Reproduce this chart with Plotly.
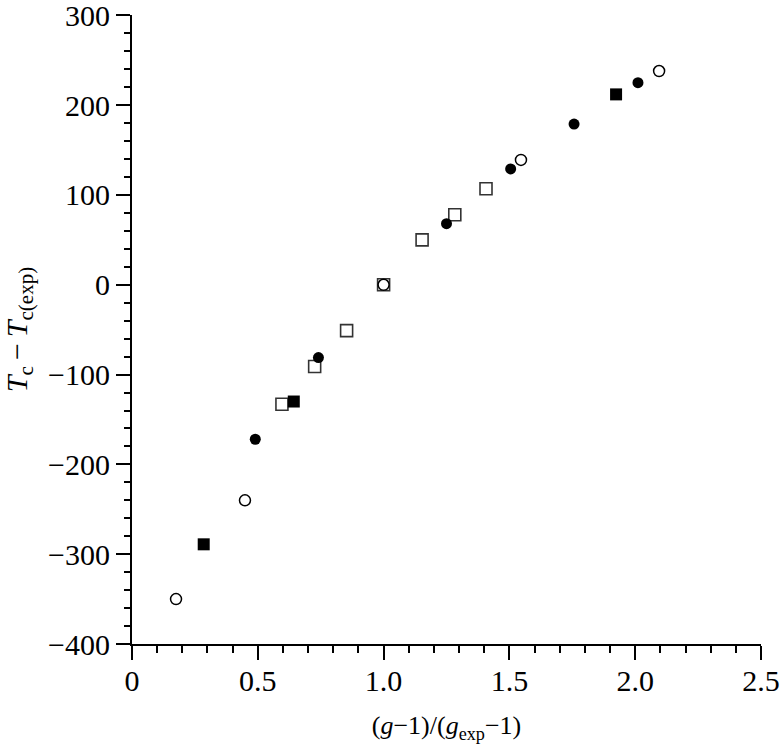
import plotly.graph_objects as go

# Data
open_sq_x = [0.596, 0.726, 0.853, 1.0, 1.153, 1.283, 1.407]
open_sq_y = [-133, -91, -51, 0, 50, 78, 107]

filled_sq_x = [0.285, 0.643, 1.924]
filled_sq_y = [-289, -130, 212]

filled_ci_x = [0.49, 0.741, 1.25, 1.505, 1.757, 2.011]
filled_ci_y = [-172, -81, 68, 129, 179, 225]

open_ci_x = [0.175, 0.449, 1.0, 1.546, 2.095]
open_ci_y = [-350, -240, 0, 139, 238]

x_tickvals = [0, 0.5, 1.0, 1.5, 2.0, 2.5]
x_ticktext = ["0", "0.5", "1.0", "1.5", "2.0", "2.5"]
y_tickvals = [-400, -300, -200, -100, 0, 100, 200, 300]

FONT = "Liberation Serif, Times New Roman, serif"

fig = go.Figure()
fig.add_trace(go.Scatter(x=open_sq_x, y=open_sq_y, mode="markers",
                         marker=dict(symbol="square", size=12, color="white",
                                     line=dict(color="#333333", width=1.6))))
fig.add_trace(go.Scatter(x=filled_sq_x, y=filled_sq_y, mode="markers",
                         marker=dict(symbol="square", size=12, color="black",
                                     line=dict(color="black", width=0))))
fig.add_trace(go.Scatter(x=filled_ci_x, y=filled_ci_y, mode="markers",
                         marker=dict(symbol="circle", size=11, color="black",
                                     line=dict(color="black", width=0))))
fig.add_trace(go.Scatter(x=open_ci_x, y=open_ci_y, mode="markers",
                         marker=dict(symbol="circle", size=11, color="white",
                                     line=dict(color="black", width=1.5))))

axis_common = dict(
    showline=True, linecolor="black", linewidth=2, mirror=False,
    showgrid=False, zeroline=False, automargin=False,
    ticks="outside", tickcolor="black", tickwidth=2,
    ticklabeloverflow="allow",
    tickfont=dict(family=FONT, size=30, color="black"),
)

fig.update_layout(
    width=782, height=744,
    margin=dict(l=132, r=21, t=15, b=100),
    paper_bgcolor="white", plot_bgcolor="white",
    showlegend=False,
    font=dict(family=FONT, color="black"),
    xaxis=dict(
        range=[0, 2.5], tickvals=x_tickvals, ticktext=x_ticktext,
        ticklen=14, ticklabelstandoff=-5,
        minor=dict(ticks="outside", dtick=0.1, ticklen=7, tickwidth=2, tickcolor="black"),
        title=dict(text="(<i>g</i>\u22121)/(<i>g</i><sub>exp</sub>\u22121)",
                   font=dict(family=FONT, size=26, color="black"), standoff=20),
        **axis_common,
    ),
    yaxis=dict(
        range=[-400, 300.4], tickvals=y_tickvals,
        ticklen=14,
        minor=dict(ticks="outside", dtick=20, ticklen=6, tickwidth=2, tickcolor="black"),
        title=dict(text="<i>T</i><sub>c</sub>\u2009\u2212\u2009<i>T</i><sub>c(exp)</sub>",
                   font=dict(family=FONT, size=30, color="black"), standoff=26),
        **axis_common,
    ),
)

# remove the browser's default 8px body margin so the figure sits at the page origin
fig.write_html("out.html", config={"displayModeBar": False},
               post_script="document.body.style.margin='0px';")
